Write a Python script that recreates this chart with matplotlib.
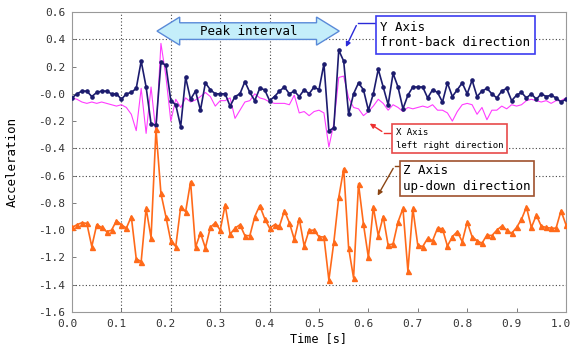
import numpy as np
import matplotlib.pyplot as plt
from matplotlib.patches import Polygon
from matplotlib.transforms import ScaledTranslation

# time axis: 0.00 .. 1.00 s, 0.01 s step
time = np.round(np.arange(0, 101) * 0.01, 2)

# Y axis (front-back)
acc_y = [-0.03, 0.00, 0.02, 0.02, -0.02, 0.01, 0.02, 0.02, 0.00, 0.00,
         -0.04, 0.00, 0.01, 0.04, 0.24, 0.05, -0.22, -0.23, 0.23, 0.21,
         -0.05, -0.08, -0.24, 0.12, -0.04, 0.02, -0.12, 0.08, 0.03, 0.00,
         0.00, 0.00, -0.09, -0.02, 0.00, 0.09, 0.01, -0.05, 0.04, 0.03,
         -0.05, -0.02, 0.02, 0.05, 0.00, 0.02, -0.02, 0.03, 0.00, 0.05,
         0.03, 0.22, -0.27, -0.25, 0.32, 0.24, -0.15, 0.00, 0.08, 0.03,
         -0.12, 0.00, 0.18, 0.05, -0.08, 0.15, 0.05, -0.11, -0.01, 0.05,
         0.05, 0.05, -0.03, 0.03, 0.01, -0.06, 0.08, -0.02, 0.03, 0.08,
         0.00, 0.10, -0.02, 0.02, 0.04, 0.00, -0.03, 0.02, 0.04, -0.05,
         -0.01, 0.01, -0.03, 0.00, -0.04, 0.00, -0.02, -0.01, -0.03, -0.06,
         -0.04]

# X axis (left-right)
acc_x = [-0.03, -0.04, -0.06, -0.07, -0.06, -0.07, -0.06, -0.07, -0.08, -0.09,
         -0.08, -0.10, -0.15, -0.27, 0.04, -0.29, 0.05, -0.29, 0.37, 0.13,
         -0.20, -0.04, -0.10, -0.03, -0.06, -0.045, -0.02, 0.01, -0.02, -0.09,
         -0.05, -0.05, -0.03, -0.18, -0.12, -0.06, -0.05, 0.00, -0.03, -0.04,
         -0.06, -0.07, -0.07, -0.07, -0.08, -0.01, -0.14, -0.13, -0.16, -0.13,
         -0.12, -0.14, -0.39, -0.22, 0.12, 0.13, -0.03, -0.10, -0.11, -0.16,
         -0.13, -0.09, -0.04, -0.07, -0.12, -0.08, -0.10, -0.13, -0.10, -0.11,
         -0.10, -0.09, -0.10, -0.08, -0.12, -0.12, -0.14, -0.20, -0.13, -0.08,
         -0.07, -0.08, -0.15, -0.10, -0.19, -0.12, -0.12, -0.09, -0.11, -0.08,
         -0.09, -0.08, -0.05, -0.04, -0.05, -0.06, -0.05, -0.07, -0.05, -0.05,
         -0.03]

# Z axis (up-down)
acc_z = [-0.98, -0.96, -0.945, -0.95, -1.12, -0.96, -0.98, -1.01, -1.00, -0.93,
         -0.96, -0.985, -0.90, -1.21, -1.23, -0.84, -1.055, -0.26, -0.73, -0.90,
         -1.08, -1.12, -0.83, -0.865, -0.645, -1.125, -1.02, -1.13, -0.98, -0.945,
         -1.00, -0.815, -1.03, -0.985, -0.96, -1.04, -1.04, -0.90, -0.82, -0.915,
         -0.985, -0.96, -0.97, -0.857, -0.945, -1.067, -0.915, -1.116, -1.00, -1.00,
         -1.048, -1.05, -1.365, -1.09, -0.76, -0.55, -1.13, -1.35, -0.66, -0.955,
         -1.20, -0.83, -1.04, -0.90, -1.11, -1.10, -0.94, -0.84, -1.30, -0.84,
         -1.11, -1.12, -1.06, -1.077, -0.985, -0.99, -1.116, -1.048, -1.01, -1.084,
         -0.94, -1.048, -1.077, -1.096, -1.035, -1.04, -1.00, -0.97, -1.00, -1.023,
         -0.98, -0.92, -0.83, -0.98, -0.89, -0.97, -0.98, -0.985, -0.985, -0.857,
         -0.96]

xticks = np.round(np.arange(0, 1.01, 0.1), 1)
yticks = np.round(np.arange(-1.6, 0.61, 0.2), 1)
vgrid = [0.1, 0.2, 0.3, 0.4]
hgrid = [0.4, -0.4, -0.6, -1.4]

mono = 'DejaVu Sans Mono'

fig = plt.figure(figsize=(5.73, 3.52), dpi=100)
ax = fig.add_axes([0.1257, 0.1136, 0.862, 0.8523])

for g in vgrid:
    ax.axvline(g, color='#444444', lw=0.8, ls=(0, (1, 2)), zorder=1)
for g in hgrid:
    ax.axhline(g, color='#444444', lw=0.8, ls=(0, (1, 2)), zorder=1)

ax.plot(time, acc_x, color='#ff3cff', lw=0.8, zorder=2)
ax.plot(time, acc_y, color='#1c1c6e', lw=1.2, marker='o', ms=2.3, zorder=3)
ax.plot(time, acc_z, color='#ff6a1a', lw=1.2, marker='^', ms=3.6, zorder=3)

ax.set_xlim(0, 1.0)
ax.set_ylim(-1.6, 0.6)
ax.set_xticks(xticks)
ax.set_yticks(yticks)
ax.set_xticklabels(['%.1f' % t for t in xticks], fontfamily=mono, fontsize=8, color='#333333')
ax.set_yticklabels(['%.1f' % t for t in yticks], fontfamily=mono, fontsize=8, color='#333333')
ax.tick_params(direction='in', length=3, width=0.6, color='#666666', pad=5)
# the x tick labels sit a little to the left of their ticks
shift = ScaledTranslation(-5 / 100, 0, fig.dpi_scale_trans)
for lbl in ax.get_xticklabels():
    lbl.set_transform(lbl.get_transform() + shift)
for s in ax.spines.values():
    s.set_color('#999999')
    s.set_linewidth(0.8)

ax.set_xlabel('Time [s]', fontfamily=mono, fontsize=8.5, labelpad=2)
ax.set_ylabel('Acceleration', fontfamily=mono, fontsize=9, labelpad=14)

# "Peak interval" double arrow
arrow = Polygon([(0.172, 0.46), (0.218, 0.563), (0.218, 0.521), (0.495, 0.521),
                 (0.495, 0.563), (0.541, 0.46), (0.495, 0.357), (0.495, 0.399),
                 (0.218, 0.399), (0.218, 0.357)], closed=True,
                facecolor='#c4eefa', edgecolor='#5a8ad8', lw=1, zorder=4)
ax.add_patch(arrow)
ax.text(0.357, 0.46, 'Peak interval', fontfamily=mono, fontsize=9,
        ha='center', va='center', zorder=5)

# Y axis label box
ax.text(0.624, 0.432, 'Y Axis\nfront-back direction', fontfamily=mono, fontsize=9,
        ha='left', va='center', linespacing=1.25, zorder=6,
        bbox=dict(boxstyle='square,pad=0.35', fc='white', ec='#3c3cf0', lw=1.2))
ax.plot([0.613, 0.578], [0.519, 0.519], color='#2a2ad8', lw=1, zorder=5)
ax.annotate('', xy=(0.552, 0.325), xytext=(0.578, 0.519), zorder=5,
            arrowprops=dict(arrowstyle='-|>', color='#2a2ad8', lw=1, mutation_scale=7))

# X axis label box
ax.text(0.655, -0.33, 'X Axis\nleft right direction', fontfamily=mono, fontsize=6.5,
        ha='left', va='center', linespacing=1.5, zorder=6,
        bbox=dict(boxstyle='square,pad=0.4', fc='white', ec='#e84a4a', lw=1.2))
ax.plot([0.646, 0.632], [-0.287, -0.287], color='#ee3030', lw=1, zorder=5)
ax.annotate('', xy=(0.598, -0.207), xytext=(0.632, -0.287), zorder=5,
            arrowprops=dict(arrowstyle='-|>', color='#ee3030', lw=1, mutation_scale=7))

# Z axis label box
ax.text(0.670, -0.62, 'Z Axis\nup-down direction', fontfamily=mono, fontsize=9,
        ha='left', va='center', linespacing=1.25, zorder=6,
        bbox=dict(boxstyle='square,pad=0.25', fc='white', ec='#a0522d', lw=1.2))
ax.plot([0.663, 0.653], [-0.529, -0.529], color='#8b4513', lw=1, zorder=5)
ax.annotate('', xy=(0.616, -0.764), xytext=(0.653, -0.529), zorder=5,
            arrowprops=dict(arrowstyle='-|>', color='#8b4513', lw=1, mutation_scale=7))

fig.savefig('out.png', dpi=100)
